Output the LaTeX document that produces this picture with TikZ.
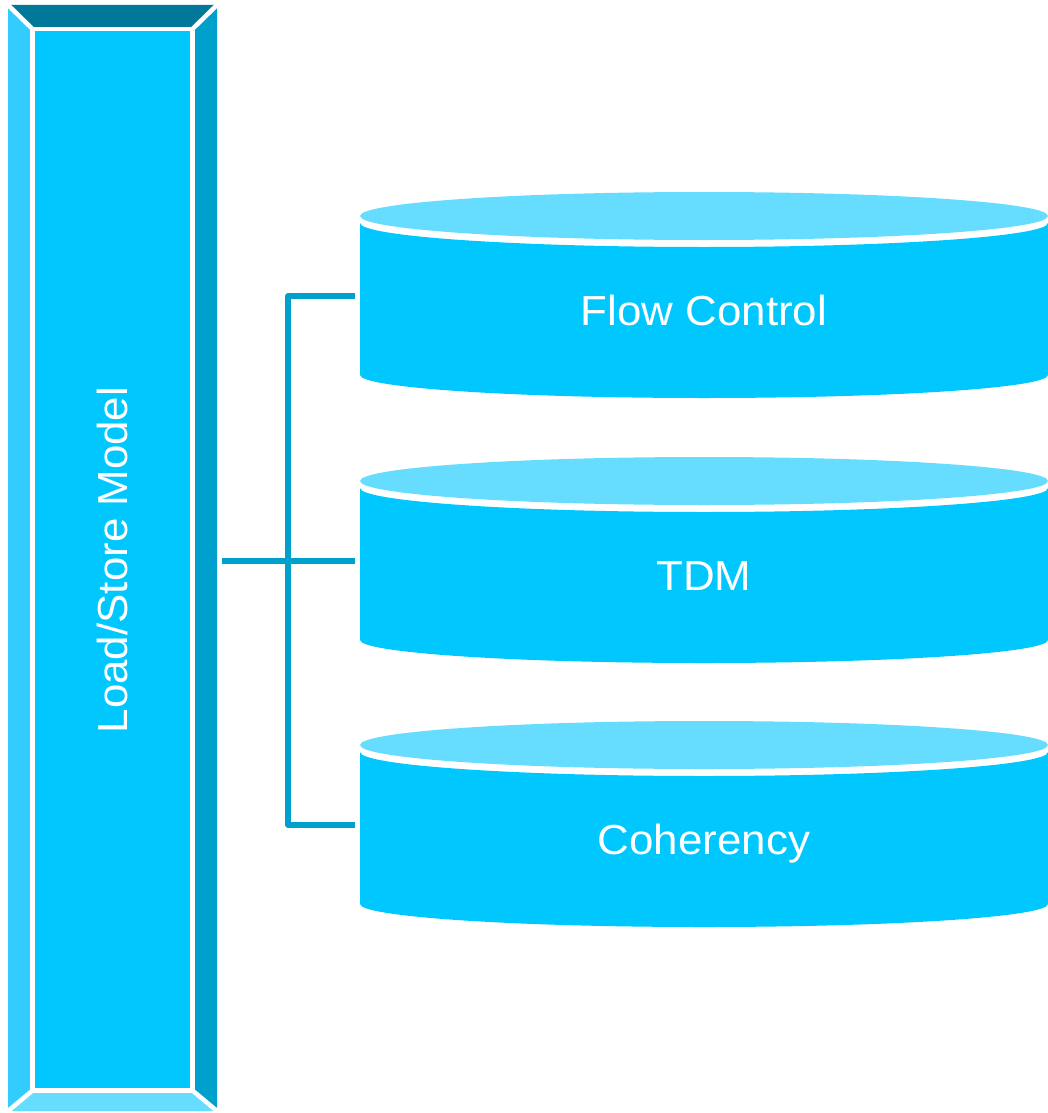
\documentclass[tikz,border=0pt]{standalone}
\usepackage{fontspec}
\setmainfont{Liberation Sans}
\definecolor{bevelTop}{HTML}{00789A}
\definecolor{bevelLeft}{HTML}{33CCFF}
\definecolor{bevelRight}{HTML}{00A0CC}
\definecolor{bevelBottom}{HTML}{66DDFF}
\definecolor{faceBlue}{HTML}{00C8FF}
\definecolor{lidBlue}{HTML}{66DDFF}
\definecolor{wireBlue}{HTML}{00A0CC}
\begin{document}
\begin{tikzpicture}[x=1pt,y=-1pt,
  bigtext/.style={text=white, inner sep=0pt, font=\fontsize{42}{50}\selectfont},
  wire/.style={draw=wireBlue, line width=5.2pt, line join=round},
  seam/.style={draw=white, line width=4.5pt},
  cyllid/.style={fill=lidBlue},
  cylbody/.style={fill=faceBlue}]
\useasboundingbox (0,0) rectangle (1048,1113);

% bevelled column
\coordinate (o1) at (8,5);     \coordinate (o2) at (217,5);
\coordinate (o3) at (217,1111); \coordinate (o4) at (8,1111);
\coordinate (i1) at (32.5,29);  \coordinate (i2) at (192.5,29);
\coordinate (i3) at (192.5,1090.5); \coordinate (i4) at (32.5,1090.5);
\fill[bevelTop]    (o1) -- (o2) -- (i2) -- (i1) -- cycle;
\fill[bevelRight]  (o2) -- (o3) -- (i3) -- (i2) -- cycle;
\fill[bevelBottom] (o3) -- (o4) -- (i4) -- (i3) -- cycle;
\fill[bevelLeft]   (o4) -- (o1) -- (i1) -- (i4) -- cycle;
\draw[seam] (o1) -- (i1) (o2) -- (i2) (o3) -- (i3) (o4) -- (i4);
\filldraw[fill=faceBlue, seam] (i1) rectangle (i3);
\node[inner sep=0pt, minimum width=209pt, minimum height=1106pt] (bar) at (112.5,558) {};
\node[bigtext, anchor=base, rotate=90] (barlabel) at (127,560) {\scalebox{1.045}[1]{Load/Store Model}};

% cylinders
\foreach \cy/\name/\txt in {216/flow/Flow Control, 481/tdm/TDM, 745/coh/Coherency}{
  \fill[cylbody] (360,{\cy+7}) -- (360,{\cy+159})
     arc[start angle=180, end angle=360, x radius=344pt, y radius=23pt]
     -- (1048,{\cy+7})
     arc[start angle=0, end angle=-180, x radius=344pt, y radius=24pt] -- cycle;
  \fill[cyllid] (704,\cy) ellipse[x radius=344pt, y radius=24pt];
  \node[bigtext, anchor=base] (\name) at (704,{\cy+109}) {\scalebox{1.045}[1]{\txt}};
  \coordinate (\name-port) at (355,{\cy+80});
}

% connectors
\coordinate (hub) at (288,561);
\draw[wire] ([xshift=5pt]bar.east |- hub) -- (hub);
\draw[wire] (flow-port) -- (flow-port -| hub) -- (coh-port -| hub) -- (coh-port);
\draw[wire] (hub) -- (tdm-port);
\end{tikzpicture}
\end{document}
